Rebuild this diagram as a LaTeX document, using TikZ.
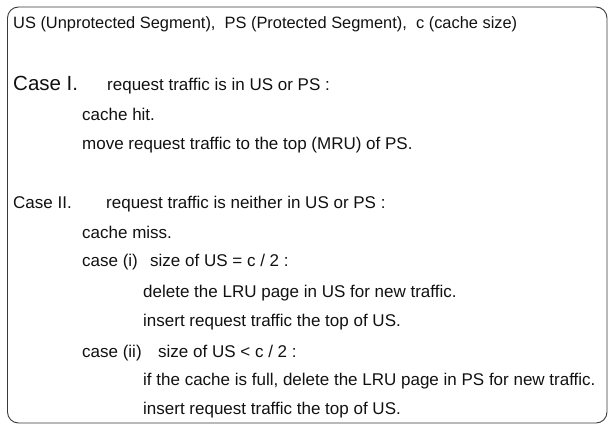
\documentclass[tikz,border=0pt]{standalone}
\usepackage{fontspec}
\setmainfont{Liberation Sans}
\usepackage{xcolor}
\usetikzlibrary{positioning}
\definecolor{cframe}{HTML}{3A3A3A}
\definecolor{ctext}{HTML}{111111}

\begin{document}
\begin{tikzpicture}[x=1pt, y=-1pt]
    \useasboundingbox (0, 0) rectangle (610, 426);
    \begin{scope}[
        txt/.style={anchor=base west, inner sep=0pt, font=\fontsize{17}{20}\selectfont\color{ctext}},
        headtxt/.style={txt, font=\fontsize{16.4}{20}\selectfont\color{ctext}},
        bigcase/.style={txt, font=\fontsize{20.5}{24}\selectfont\color{ctext}},
        frame/.style={draw=cframe, line width=0.9pt, rounded corners=11pt}
    ]
        \draw[frame] (7.5, 7) rectangle (607, 423);

        % ================= legend =================
        \node[headtxt] (legend) at (13, 28) {US (Unprotected Segment),\ \ PS (Protected Segment),\ \ c (cache size)};

        % ================= Case I: hit =================
        \node[bigcase] (case_one) at (13, 90) {Case I.};
        \node[txt] (case_one_cond) at (107, 90) {request traffic is in US or PS :};
        \node[txt] (one_hit) at (82, 120) {cache hit.};
        \node[txt] (one_move) at (82, 149) {move request traffic to the top (MRU) of PS.};

        % ================= Case II: miss =================
        \node[txt] (case_two) at (13, 208) {Case II.};
        \node[txt] (case_two_cond) at (106, 208) {request traffic is neither in US or PS :};
        \node[txt] (two_miss) at (82, 238) {cache miss.};

        \node[txt] (sub_one) at (82, 266) {case (i)};
        \node[txt] (sub_one_cond) at (150, 266) {size of US = c / 2 :};
        \node[txt] (sub_one_del) at (143, 297) {delete the LRU page in US for new traffic.};
        \node[txt] (sub_one_ins) at (143, 326) {insert request traffic the top of US.};

        \node[txt] (sub_two) at (82, 357) {case (ii)};
        \node[txt] (sub_two_cond) at (158, 357) {size of US < c / 2 :};
        \node[txt] (sub_two_del) at (143, 385) {if the cache is full, delete the LRU page in PS for new traffic.};
        \node[txt] (sub_two_ins) at (143, 414) {insert request traffic the top of US.};
    \end{scope}
\end{tikzpicture}
\end{document}
